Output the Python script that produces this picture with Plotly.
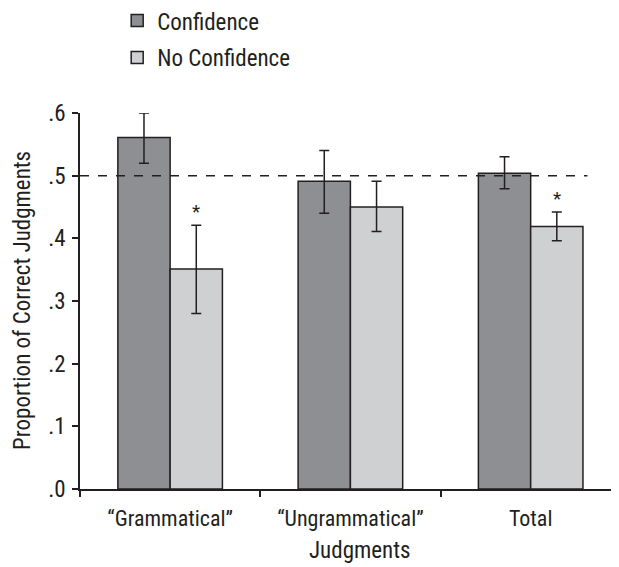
import plotly.graph_objects as go

categories = ["“Grammatical”", "“Ungrammatical”", "Total"]
confidence = [0.561, 0.491, 0.504]
conf_err_plus = [0.039, 0.049, 0.026]
conf_err_minus = [0.041, 0.051, 0.025]
no_confidence = [0.351, 0.450, 0.419]
nc_err_plus = [0.070, 0.041, 0.023]
nc_err_minus = [0.071, 0.039, 0.023]
significant = [True, False, True]
chance_level = 0.5
y_ticks = [0, 0.1, 0.2, 0.3, 0.4, 0.5, 0.6]
y_ticklabels = [".0", ".1", ".2", ".3", ".4", ".5", ".6"]

FONT = "Liberation Sans Narrow, Arial Narrow, Roboto Condensed, Liberation Sans, Arial, sans-serif"
TXT = "#231f20"

fig = go.Figure()
fig.add_trace(go.Bar(
    name="Confidence", x=categories, y=confidence,
    marker=dict(color="#8e8f92", line=dict(color=TXT, width=1.5)),
    error_y=dict(type="data", symmetric=False, array=conf_err_plus,
                 arrayminus=conf_err_minus, color=TXT, thickness=1.5, width=5),
    legendgroup="a",
))
fig.add_trace(go.Bar(
    name="No Confidence", x=categories, y=no_confidence,
    marker=dict(color="#cfd0d2", line=dict(color=TXT, width=1.5)),
    error_y=dict(type="data", symmetric=False, array=nc_err_plus,
                 arrayminus=nc_err_minus, color=TXT, thickness=1.5, width=5),
    legendgroup="b",
))

for c, v, e, s in zip(categories, no_confidence, nc_err_plus, significant):
    if s:
        fig.add_annotation(x=c, y=v + e, xref="x", yref="y", text="*",
                           showarrow=False, xshift=26, yshift=0, yanchor="bottom",
                           font=dict(family=FONT, size=19, color=TXT))

fig.add_shape(type="line", xref="x", yref="y", x0=-0.5, x1=2.315,
              y0=chance_level, y1=chance_level,
              line=dict(color=TXT, width=1.5, dash="dash"), layer="above")

fig.add_annotation(text="Proportion of Correct Judgments", xref="paper", yref="paper",
                   x=(22 - 80) / 539, y=0.5, textangle=-90, showarrow=False,
                   xanchor="center", yanchor="middle",
                   font=dict(family=FONT, size=23, color=TXT))
fig.add_annotation(text="Judgments", xref="paper", yref="paper",
                   x=(360 - 80) / 539, y=-(550 - 489) / 376, showarrow=False,
                   xanchor="center", yanchor="middle",
                   font=dict(family=FONT, size=23, color=TXT))

# page has an 8px body margin, so the figure is drawn 8px smaller and shifted
fig.update_layout(
    width=611, height=559,
    margin=dict(l=72, r=0, t=105, b=78, autoexpand=False),
    paper_bgcolor="white", plot_bgcolor="white",
    barmode="group", bargap=0.42, bargroupgap=0,
    font=dict(family=FONT, size=22, color=TXT),
    showlegend=True,
    legend=dict(x=0.069, y=1.303, xanchor="left", yanchor="top",
                font=dict(family=FONT, size=23, color=TXT),
                tracegroupgap=4, bgcolor="rgba(0,0,0,0)"),
    xaxis=dict(
        showline=True, linecolor=TXT, linewidth=1.5, automargin=False,
        ticks="outside", tickson="boundaries", ticklen=6, tickcolor=TXT, tickwidth=1.5,
        tickfont=dict(family=FONT, size=22, color=TXT), ticklabelstandoff=9,
        range=[-0.5, 2.49], fixedrange=True,
    ),
    yaxis=dict(
        range=[0, 0.6], tickvals=y_ticks, ticktext=y_ticklabels, automargin=False,
        showline=True, linecolor=TXT, linewidth=1.5, showgrid=False, zeroline=False,
        ticks="outside", ticklen=6, tickcolor=TXT, tickwidth=1.5, ticklabelstandoff=2,
        tickfont=dict(family=FONT, size=23, color=TXT),
    ),
)

fig.write_html("out.html")
